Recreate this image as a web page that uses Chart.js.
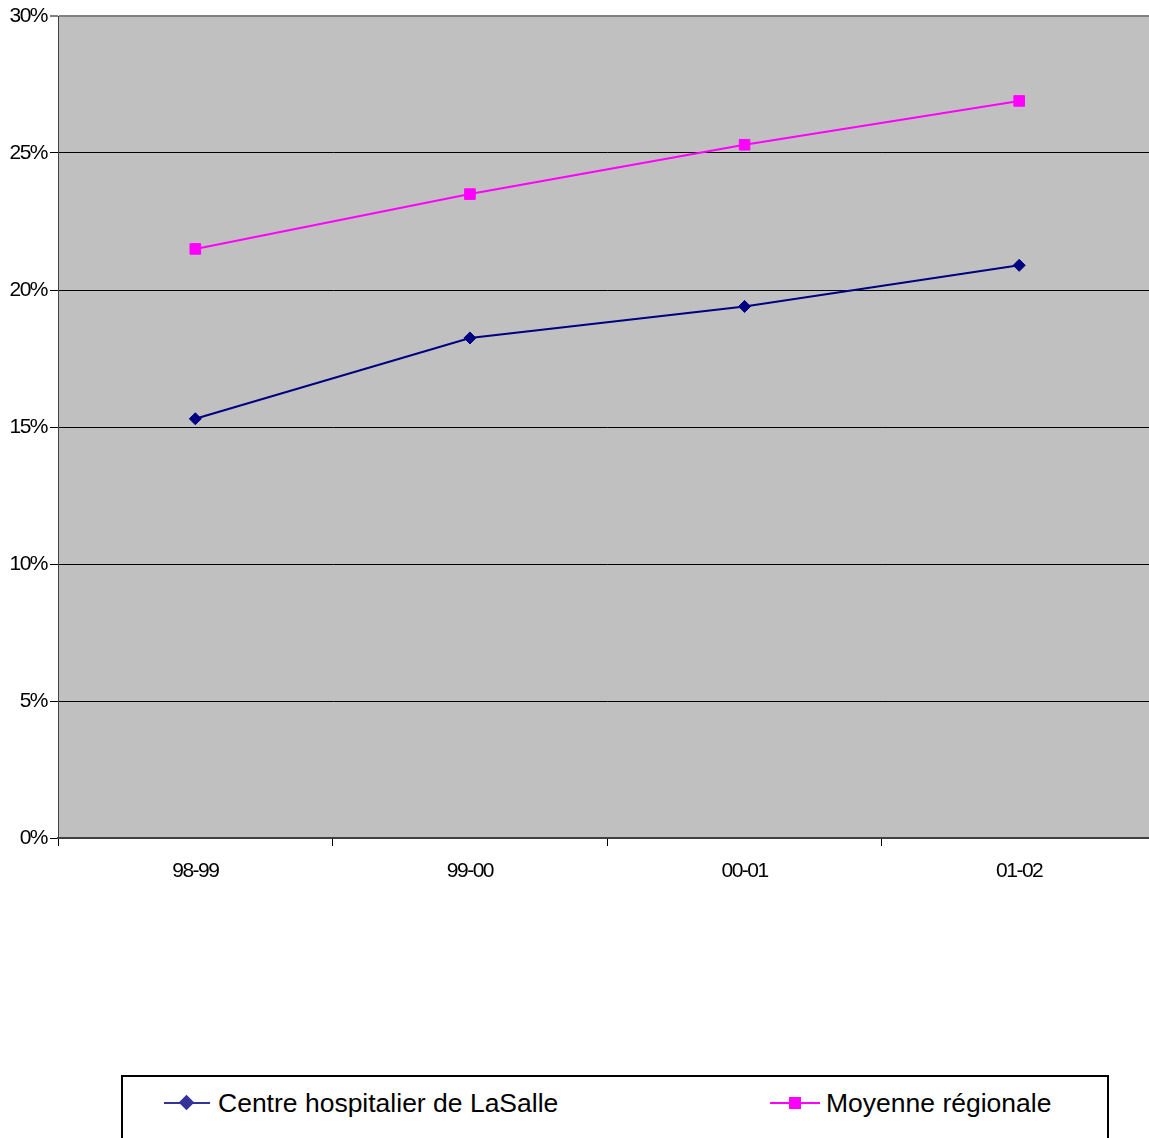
<!DOCTYPE html>
<html>
<head>
<meta charset="utf-8">
<script src="https://cdn.jsdelivr.net/npm/chart.js@4/dist/chart.umd.min.js"></script>
<style>
  html, body { margin: 0; padding: 0; background: #fff; overflow: hidden; width: 1149px; height: 1138px; }
  #wrap { position: absolute; left: 0; top: 0; }
  #legend {
    position: absolute; left: 121px; top: 1075px; width: 984px; height: 80px;
    border: 2px solid #000; background: #fff;
    font-family: "Liberation Sans", Arial, sans-serif; font-size: 26.5px; color: #000;
  }
  .item { position: absolute; top: 11px; height: 30px; line-height: 30px; }
  .line { position: absolute; top: 14px; height: 2px; }
  .mark { position: absolute; }
  .lbl { position: absolute; white-space: nowrap; }
</style>
</head>
<body>
<div id="wrap"><canvas id="myChart" width="1165" height="900"></canvas></div>
<div id="legend">
  <div class="item" style="left:41px">
    <div class="line" style="left:0;width:46px;background:#333399"></div>
    <div class="mark" style="left:17px;top:9px;width:11px;height:11px;background:#333399;transform:rotate(45deg)"></div>
    <div class="lbl" style="left:54px">Centre hospitalier de LaSalle</div>
  </div>
  <div class="item" style="left:647px">
    <div class="line" style="left:0;width:50px;background:#FF00FF"></div>
    <div class="mark" style="left:19px;top:9px;width:12px;height:12px;background:#FF00FF"></div>
    <div class="lbl" style="left:56px">Moyenne régionale</div>
  </div>
</div>
<script>
const categories = ['98-99', '99-00', '00-01', '01-02'];
const lasalleValues = [15.3, 18.25, 19.4, 20.9];
const regionValues = [21.5, 23.5, 25.3, 26.9];
const yTicks = [0, 5, 10, 15, 20, 25, 30];

const tickFont = { family: '"Liberation Sans", Arial, sans-serif', size: 21 };

// grey plot background + tight letter spacing like the original labels
const plotBg = {
  id: 'plotBg',
  beforeDraw(chart) {
    const a = chart.chartArea;
    const ctx = chart.ctx;
    ctx.letterSpacing = '-1.5px';
    ctx.save();
    ctx.fillStyle = '#C0C0C0';
    ctx.fillRect(a.left, a.top, a.right - a.left, a.bottom - a.top);
    ctx.restore();
  }
};

const chartContainer = document.getElementById('myChart');

const chartConfiguration = {
  type: 'line',
  data: {
    labels: categories,
    datasets: [
      {
        label: 'Centre hospitalier de LaSalle',
        data: lasalleValues,
        borderColor: '#000080',
        backgroundColor: '#000080',
        borderWidth: 2,
        pointStyle: 'rectRot',
        pointRadius: 6,
        pointBorderWidth: 1,
        tension: 0,
      },
      {
        label: 'Moyenne régionale',
        data: regionValues,
        borderColor: '#FF00FF',
        backgroundColor: '#FF00FF',
        borderWidth: 2,
        pointStyle: 'rect',
        pointRadius: 7.5,
        pointBorderWidth: 1,
        tension: 0,
      },
    ],
  },
  options: {
    responsive: false,
    animation: false,
    devicePixelRatio: 1,
    layout: { padding: { left: 0, top: 16, right: 4, bottom: 0 } },
    plugins: {
      legend: { display: false },
      tooltip: { enabled: false },
    },
    scales: {
      x: {
        offset: true,
        afterFit(scale) { scale.height = 62; },
        grid: {
          offset: true,
          drawOnChartArea: false,
          drawTicks: true,
          tickLength: 8,
          color: '#000',
        },
        border: { color: '#404040', width: 2 },
        ticks: { font: tickFont, color: '#000', padding: 13, maxRotation: 0 },
      },
      y: {
        min: 0,
        max: 30,
        afterFit(scale) { scale.width = 58; },
        afterBuildTicks(scale) { scale.ticks = yTicks.map(v => ({ value: v })); },
        grid: {
          color: (c) => (c.tick && c.tick.value === 30 ? '#808080' : '#000'),
          lineWidth: (c) => (c.tick && c.tick.value === 30 ? 2 : 1),
          drawTicks: true,
          tickLength: 8,
        },
        border: { color: '#404040', width: 1 },
        ticks: {
          font: tickFont,
          color: '#000',
          padding: 3,
          callback: (v) => v + '%',
        },
      },
    },
  },
  plugins: [plotBg],
};

const myChart = new Chart(chartContainer, chartConfiguration);
</script>
</body>
</html>
